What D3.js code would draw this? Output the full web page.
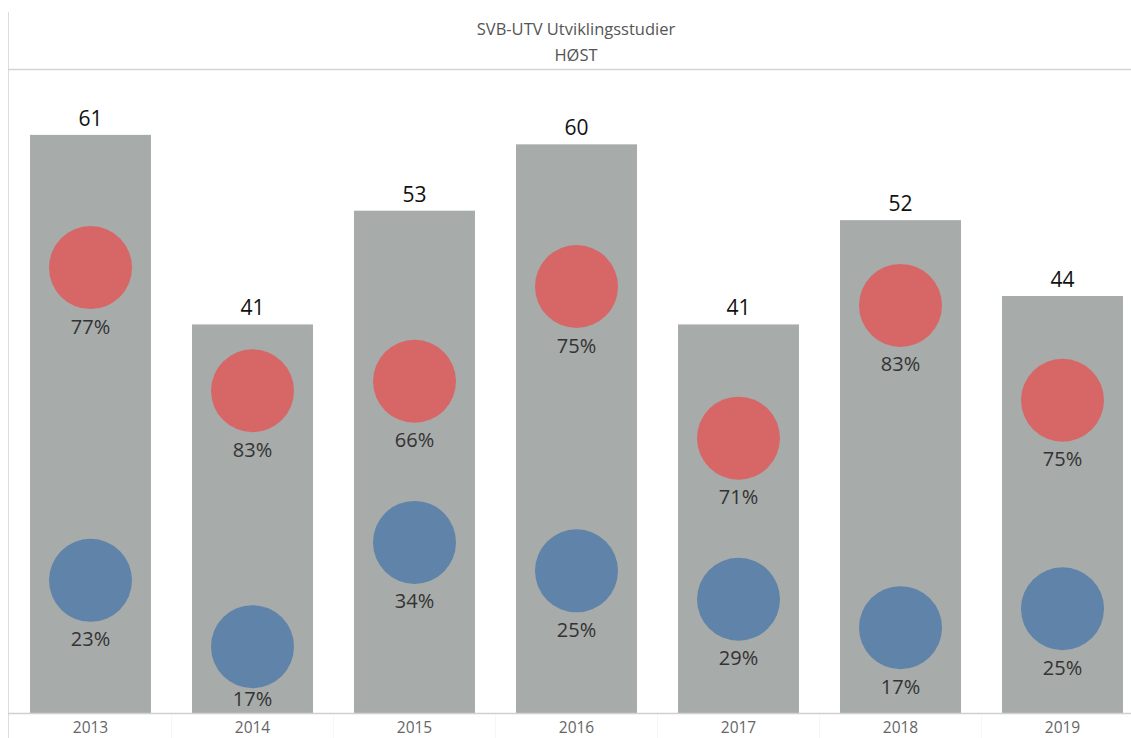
<!DOCTYPE html>
<html>
<head>
<meta charset="utf-8">
<script src="https://cdn.jsdelivr.net/npm/d3@7"></script>
<style>
  body { margin: 0; background: #fff; }
</style>
</head>
<body>
<script>
const width = 1131;
const height = 738;

const years = ["2013", "2014", "2015", "2016", "2017", "2018", "2019"];
const totals = [61, 41, 53, 60, 41, 52, 44];
const redCounts = [47, 34, 35, 45, 29, 43, 33];
const redPct = [77, 83, 66, 75, 71, 83, 75];
const blueCounts = [14, 7, 18, 15, 12, 9, 11];
const bluePct = [23, 17, 34, 25, 29, 17, 25];
const titleLines = ["SVB-UTV Utviklingsstudier", "HØST"];

const font = "'Open Sans', sans-serif";

const svg = d3
  .select("body")
  .append("svg")
  .attr("width", width)
  .attr("height", height)
  .style("font-family", font);

const x = d3
  .scaleBand()
  .domain(years)
  .range([9.5, 9.5 + 162 * 7])
  .paddingInner(0.253)
  .paddingOuter(0.1265);

const y = d3.scaleLinear().domain([0, 67]).range([713, 78]);

const r = 41.5;

// header frame
svg.append("line")
  .attr("x1", 8.5).attr("x2", 8.5)
  .attr("y1", 12).attr("y2", height)
  .attr("stroke", "#dcdcdc");
svg.append("line")
  .attr("x1", 8).attr("x2", width)
  .attr("y1", 69.5).attr("y2", 69.5)
  .attr("stroke", "#d4d4d4")
  .attr("stroke-width", 1.5);

svg.selectAll(".title")
  .data(titleLines)
  .enter()
  .append("text")
  .attr("class", "title")
  .attr("x", 576)
  .attr("y", (d, i) => 35 + i * 26)
  .attr("text-anchor", "middle")
  .attr("font-size", 16.5)
  .attr("fill", "#555")
  .text((d) => d);

const data = years.map((yr, i) => ({
  year: yr,
  total: totals[i],
  red: redCounts[i],
  redPct: redPct[i],
  blue: blueCounts[i],
  bluePct: bluePct[i],
}));

// bars
svg.selectAll(".bar")
  .data(data)
  .enter()
  .append("rect")
  .attr("class", "bar")
  .attr("x", (d) => x(d.year))
  .attr("width", x.bandwidth())
  .attr("y", (d) => y(d.total))
  .attr("height", (d) => y(0) - y(d.total))
  .attr("fill", "#a7abaa");

svg.selectAll(".total")
  .data(data)
  .enter()
  .append("text")
  .attr("class", "total")
  .attr("x", (d) => x(d.year) + x.bandwidth() / 2)
  .attr("y", (d) => y(d.total) - 9)
  .attr("text-anchor", "middle")
  .attr("font-size", 21)
  .attr("fill", "#111")
  .text((d) => d.total);

// circles
const series = [
  { key: "red", pct: "redPct", color: "#d76767" },
  { key: "blue", pct: "bluePct", color: "#5f83a9" },
];

series.forEach((s) => {
  svg.selectAll(".dot-" + s.key)
    .data(data)
    .enter()
    .append("circle")
    .attr("class", "dot-" + s.key)
    .attr("cx", (d) => x(d.year) + x.bandwidth() / 2)
    .attr("cy", (d) => y(d[s.key]))
    .attr("r", r)
    .attr("fill", s.color);

  svg.selectAll(".lbl-" + s.key)
    .data(data)
    .enter()
    .append("text")
    .attr("class", "lbl-" + s.key)
    .attr("x", (d) => x(d.year) + x.bandwidth() / 2)
    .attr("y", (d) => Math.min(y(d[s.key]) + 66, 706))
    .attr("text-anchor", "middle")
    .attr("font-size", 20)
    .attr("fill", "#333")
    .text((d) => d[s.pct] + "%");
});

// x axis
const xAxis = d3.axisBottom(x).tickSize(0).tickPadding(9);
const ax = svg.append("g")
  .attr("transform", `translate(0,${y(0)})`)
  .call(xAxis);
ax.select(".domain").remove();
ax.selectAll("text")
  .attr("font-size", 15.5)
  .attr("font-family", font)
  .attr("fill", "#666");

svg.append("line")
  .attr("x1", 8).attr("x2", width)
  .attr("y1", y(0) + 0.5).attr("y2", y(0) + 0.5)
  .attr("stroke", "#d0d0d0")
  .attr("stroke-width", 1.5);

// faint band separators
svg.selectAll(".sep")
  .data(years.slice(1))
  .enter()
  .append("line")
  .attr("class", "sep")
  .attr("x1", (d) => x(d) - x.step() * x.paddingInner() / 2)
  .attr("x2", (d) => x(d) - x.step() * x.paddingInner() / 2)
  .attr("y1", y(0) + 2)
  .attr("y2", height)
  .attr("stroke", "#f6f6f6");
</script>
</body>
</html>
